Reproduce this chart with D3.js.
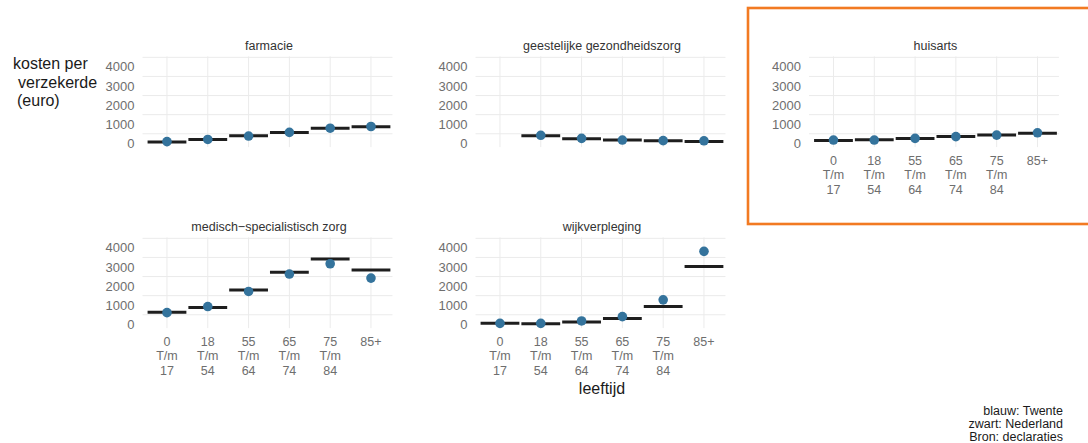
<!DOCTYPE html>
<html>
<head>
<meta charset="utf-8">
<script src="https://cdn.jsdelivr.net/npm/d3@7"></script>
<style>
  body { margin: 0; background: #fff; }
  svg { font-family: "Liberation Sans", Arial, sans-serif; }
</style>
</head>
<body>
<script>
// leeftijdsgroepen
var categories = ["0 T/m 17", "18 T/m 54", "55 T/m 64", "65 T/m 74", "75 T/m 84", "85+"];
var panels = ["farmacie", "geestelijke gezondheidszorg", "huisarts", "medisch\u2212specialistisch zorg", "wijkverpleging"];
var yTicks = [0, 1000, 2000, 3000, 4000];
var yGrid = [500, 1500, 2500, 3500, 4500];

// blauw: Twente
var twente = {
  "farmacie": [90, 200, 380, 570, 790, 880],
  "geestelijke gezondheidszorg": [null, 420, 260, 170, 140, 130],
  "huisarts": [170, 170, 260, 350, 430, 550],
  "medisch\u2212specialistisch zorg": [610, 930, 1720, 2630, 3170, 2420],
  "wijkverpleging": [50, 50, 175, 400, 1280, 3820]
};
// zwart: Nederland
var nederland = {
  "farmacie": [70, 200, 400, 560, 790, 870],
  "geestelijke gezondheidszorg": [null, 400, 240, 170, 140, 90],
  "huisarts": [150, 190, 250, 350, 430, 520],
  "medisch\u2212specialistisch zorg": [630, 875, 1790, 2720, 3420, 2840],
  "wijkverpleging": [50, 30, 120, 300, 930, 3030]
};
// panels die x-as labels tonen
var showX = ["huisarts", "medisch\u2212specialistisch zorg", "wijkverpleging"];

var W = 1088, H = 443;
var colX = [142.5, 475.5, 809];
var rowZero = [143.3, 324.3];
var step = 40.8, pw = step * 6.2;
var pxPer = 0.0191;

var svg = d3.select("body").append("svg")
    .attr("width", W)
    .attr("height", H);

panels.forEach(function(name, i) {
  var col = i % 3, row = Math.floor(i / 3);
  var x0 = colX[col], z = rowZero[row];

  var x = d3.scaleBand()
      .domain(categories)
      .range([x0, x0 + pw])
      .paddingInner(0)
      .paddingOuter(0.1);

  var y = d3.scaleLinear()
      .domain([0, 4000])
      .range([z, z - 4000 * pxPer]);

  var g = svg.append("g");
  var cx = function(c) { return x(c) + x.bandwidth() / 2; };

  // grid
  g.selectAll(".hgrid").data(yGrid).enter().append("line")
      .attr("x1", x0).attr("x2", x0 + pw - 3)
      .attr("y1", d => y(d)).attr("y2", d => y(d))
      .attr("stroke", "#ebebeb").attr("stroke-width", 1);
  g.selectAll(".vgrid").data(categories).enter().append("line")
      .attr("x1", cx).attr("x2", cx)
      .attr("y1", y(4550)).attr("y2", y(-200))
      .attr("stroke", "#ebebeb").attr("stroke-width", 1);

  // y labels
  g.selectAll(".ylab").data(yTicks).enter().append("text")
      .attr("x", x0 - 8)
      .attr("y", d => y(d) + 4.5)
      .attr("text-anchor", "end")
      .attr("font-size", 13)
      .attr("fill", "#6e6e6e")
      .text(d => d);

  // titel
  g.append("text")
      .attr("x", x0 + pw / 2)
      .attr("y", z - 98 + 4.5)
      .attr("text-anchor", "middle")
      .attr("font-size", 12.5)
      .attr("fill", "#333")
      .text(name);

  // Nederland
  var nl = categories.map((c, k) => ({c: c, v: nederland[name][k]})).filter(d => d.v != null);
  g.selectAll(".nl").data(nl).enter().append("line")
      .attr("x1", d => x(d.c) + 1).attr("x2", d => x(d.c) + x.bandwidth() - 1)
      .attr("y1", d => y(d.v)).attr("y2", d => y(d.v))
      .attr("stroke", "#1e1e1e").attr("stroke-width", 3);

  // Twente
  var tw = categories.map((c, k) => ({c: c, v: twente[name][k]})).filter(d => d.v != null);
  g.selectAll(".tw").data(tw).enter().append("circle")
      .attr("cx", d => cx(d.c))
      .attr("cy", d => y(d.v))
      .attr("r", 4.8)
      .attr("fill", "#34739c");

  if (showX.includes(name)) {
    var xl = g.selectAll(".xlab").data(categories).enter().append("text")
        .attr("x", cx)
        .attr("y", z + 17 + 4.5)
        .attr("text-anchor", "middle")
        .attr("font-size", 12.5)
        .attr("fill", "#6e6e6e");
    xl.each(function(d) {
      var parts = d.split(" ");
      var t = d3.select(this);
      parts.forEach(function(p, j) {
        t.append("tspan").attr("x", cx(d)).attr("dy", j == 0 ? 0 : 14.5).text(p);
      });
    });
  }
});

// as-titels
var yt = svg.append("text").attr("font-size", 16).attr("fill", "#1a1a1a");
[["kosten per", 13, 68.5], ["verzekerde", 18, 87.5], ["(euro)", 17, 106]].forEach(function(l) {
  yt.append("tspan").attr("x", l[1]).attr("y", l[2]).text(l[0]);
});

svg.append("text")
    .attr("x", colX[1] + pw / 2)
    .attr("y", 394)
    .attr("text-anchor", "middle")
    .attr("font-size", 16)
    .attr("fill", "#1a1a1a")
    .text("leeftijd");

// bron
var src = ["blauw: Twente", "zwart: Nederland", "Bron: declaraties"];
svg.selectAll(".src").data(src).enter().append("text")
    .attr("x", 1063)
    .attr("y", (d, i) => 414.5 + i * 13)
    .attr("text-anchor", "end")
    .attr("font-size", 12.5)
    .attr("fill", "#1a1a1a")
    .text(d => d);

// oranje kader om huisarts
svg.append("rect")
    .attr("x", 748).attr("y", 8)
    .attr("width", 360).attr("height", 216)
    .attr("fill", "none")
    .attr("stroke", "#f27a22")
    .attr("stroke-width", 2.6);
</script>
</body>
</html>
